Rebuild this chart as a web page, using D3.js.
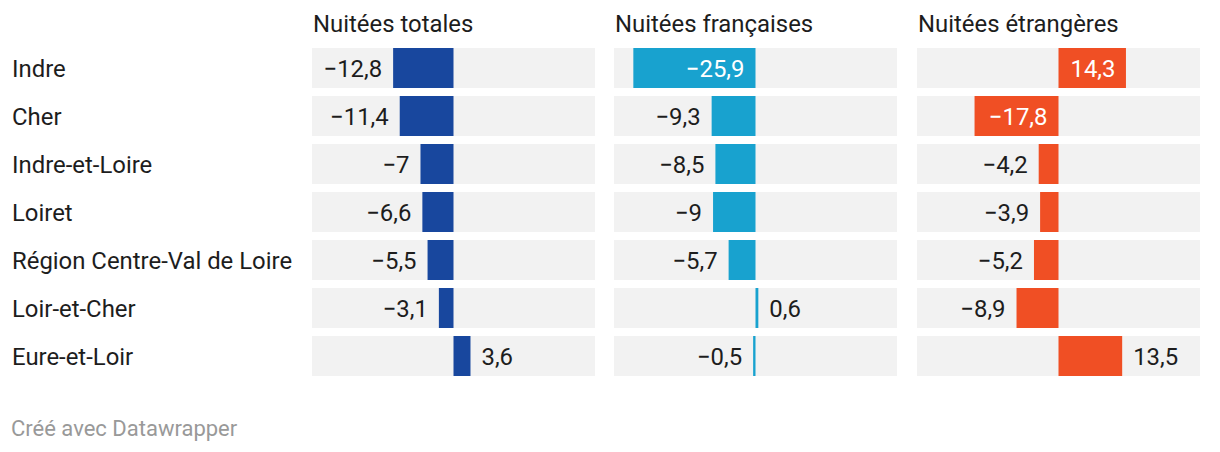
<!DOCTYPE html>
<html>
<head>
<meta charset="utf-8">
<script src="https://cdn.jsdelivr.net/npm/d3@7"></script>
<style>
  html, body { margin: 0; padding: 0; background: #fff; }
  svg { display: block; font-family: Roboto, "Noto Sans", sans-serif; }
</style>
</head>
<body>
<svg id="chart" width="1220" height="452"></svg>
<script>
const categories = ["Indre", "Cher", "Indre-et-Loire", "Loiret", "Région Centre-Val de Loire", "Loir-et-Cher", "Eure-et-Loir"];
const seriesNames = ["Nuitées totales", "Nuitées françaises", "Nuitées étrangères"];
const totales = [-12.8, -11.4, -7, -6.6, -5.5, -3.1, 3.6];
const francaises = [-25.9, -9.3, -8.5, -9, -5.7, 0.6, -0.5];
const etrangeres = [14.3, -17.8, -4.2, -3.9, -5.2, -8.9, 13.5];
const colors = ["#18479e", "#18a2cf", "#f04f24"];
const domain = [-30, 30];
const footer = "Créé avec Datawrapper";

const series = [totales, francaises, etrangeres];
const svg = d3.select("#chart");

const panelX = [312, 614, 917];
const panelW = 283;
const rowTop = 48;
const fs = 23.9;

const yb = d3.scaleBand().domain(categories).range([rowTop, rowTop + 48 * categories.length - 8]).paddingInner(8 / 48);

const fmt = v => (v < 0 ? "\u2212" : "") + d3.format("")(Math.abs(v)).replace(".", ",");

// row labels
svg.append("g").selectAll("text").data(categories).join("text")
  .attr("x", 12)
  .attr("y", d => yb(d) + yb.bandwidth() / 2 + 8.5)
  .attr("font-size", fs)
  .attr("fill", "#1d1d1d")
  .text(d => d);

series.forEach((vals, i) => {
  const x = d3.scaleLinear().domain(domain).range([panelX[i], panelX[i] + panelW]);
  const g = svg.append("g");
  g.append("text")
    .attr("x", panelX[i] + 1)
    .attr("y", 32)
    .attr("font-size", fs)
    .attr("fill", "#1d1d1d")
    .text(seriesNames[i]);

  const data = categories.map((c, j) => ({ c, v: vals[j] }));
  g.selectAll("rect.bg").data(data).join("rect")
    .attr("class", "bg")
    .attr("x", panelX[i])
    .attr("width", panelW)
    .attr("y", d => yb(d.c))
    .attr("height", yb.bandwidth())
    .attr("fill", "#f2f2f2");

  g.selectAll("rect.bar").data(data).join("rect")
    .attr("class", "bar")
    .attr("x", d => Math.min(x(0), x(d.v)))
    .attr("width", d => Math.max(2, Math.abs(x(d.v) - x(0))))
    .attr("y", d => yb(d.c))
    .attr("height", yb.bandwidth())
    .attr("fill", colors[i]);

  g.selectAll("text.val").data(data).join("text")
    .attr("class", "val")
    .attr("font-size", fs)
    .attr("y", d => yb(d.c) + yb.bandwidth() / 2 + 8.5)
    .text(d => fmt(d.v))
    .each(function(d) {
      const tw = this.getComputedTextLength();
      const bw = Math.abs(x(d.v) - x(0));
      const inside = bw > tw + 20;
      const sel = d3.select(this);
      if (inside) {
        sel.attr("fill", "#fff");
        if (d.v < 0) sel.attr("x", x(0) - 11).attr("text-anchor", "end");
        else sel.attr("x", x(0) + 12).attr("text-anchor", "start");
      } else {
        sel.attr("fill", "#1d1d1d");
        if (d.v < 0) sel.attr("x", x(d.v) - 11).attr("text-anchor", "end");
        else sel.attr("x", x(d.v) + 11).attr("text-anchor", "start");
      }
    });
});

svg.append("text")
  .attr("x", 11)
  .attr("y", 436)
  .attr("font-size", 22)
  .attr("fill", "#999")
  .text(footer);
</script>
</body>
</html>
